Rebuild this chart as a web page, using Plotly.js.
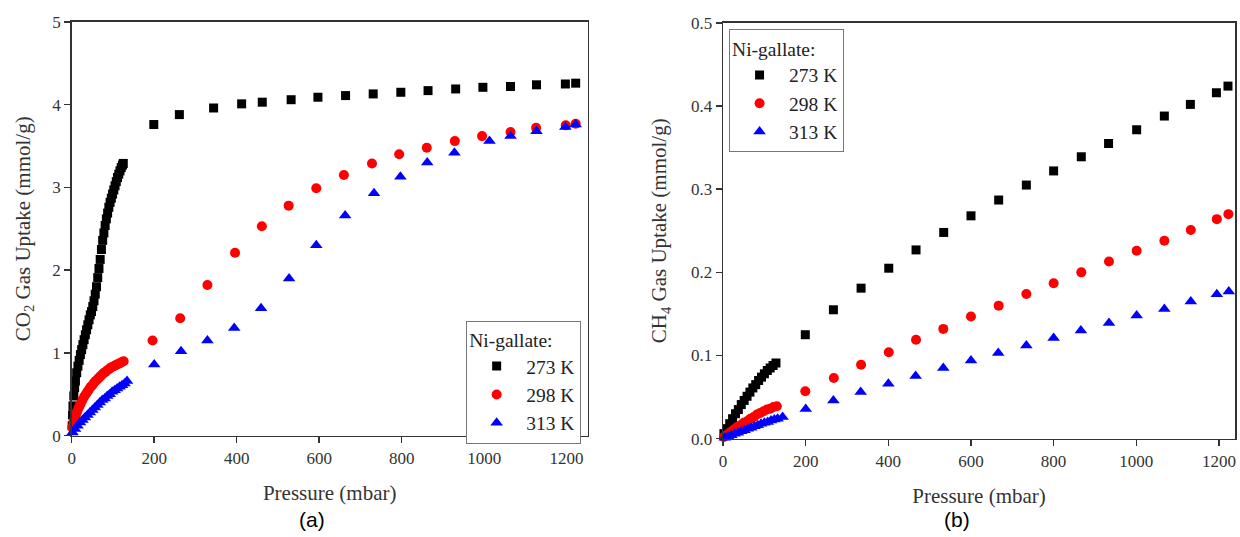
<!DOCTYPE html>
<html>
<head>
<meta charset="utf-8">
<script src="https://cdn.plot.ly/plotly-3.0.1.min.js"></script>
<style>html,body{margin:0;padding:0;background:#fff;}#chart{width:1240px;height:537px;}</style>
</head>
<body>
<div id="chart"></div>
<script>
// ---------- (a) CO2 uptake, Ni-gallate ----------
const co2_273_p = [1,2,3,5,7,9,12,15,18,21,24,27,30,33,36,39,42,45,48,51,54,57,60,63,66,69,72,75,78,81,84,87,90,93,96,99,102,105,108,111,114,117,120,123,125,
  199,261,344,412,462,532,597,664,731,798,864,931,997,1064,1127,1197,1222];
const co2_273_u = [0.12,0.25,0.36,0.48,0.58,0.66,0.76,0.84,0.91,0.98,1.04,1.10,1.16,1.22,1.28,1.34,1.40,1.46,1.50,1.56,1.63,1.71,1.80,1.91,2.02,2.13,2.25,2.36,2.45,2.54,2.62,2.69,2.76,2.82,2.87,2.92,2.97,3.02,3.07,3.12,3.16,3.20,3.24,3.27,3.29,
  3.76,3.88,3.96,4.01,4.03,4.06,4.09,4.11,4.13,4.15,4.17,4.19,4.21,4.22,4.24,4.25,4.26];

const co2_298_p = [1,4,7,10,13,16,19,22,26,30,34,38,42,46,50,54,58,62,66,70,74,78,82,86,90,94,98,102,106,110,114,118,122,126,
  196,263,329,396,461,526,593,660,728,794,861,929,995,1064,1126,1198,1222];
const co2_298_u = [0.10,0.16,0.21,0.25,0.29,0.33,0.36,0.39,0.43,0.47,0.50,0.53,0.56,0.59,0.61,0.64,0.66,0.68,0.70,0.72,0.74,0.76,0.77,0.79,0.80,0.82,0.83,0.84,0.85,0.86,0.87,0.88,0.89,0.90,
  1.15,1.42,1.82,2.21,2.53,2.78,2.99,3.15,3.29,3.40,3.48,3.56,3.62,3.67,3.72,3.75,3.77];

const co2_313_p = [2,8,14,20,26,32,38,44,50,56,62,68,74,80,86,92,98,104,110,116,122,128,134,
  200,265,329,394,459,527,593,663,733,797,862,928,1013,1064,1127,1197,1222];
const co2_313_u = [0.04,0.08,0.12,0.16,0.19,0.22,0.25,0.28,0.31,0.34,0.37,0.40,0.43,0.45,0.48,0.50,0.53,0.55,0.57,0.59,0.61,0.63,0.66,
  0.86,1.02,1.15,1.30,1.54,1.90,2.30,2.66,2.93,3.13,3.30,3.42,3.56,3.62,3.68,3.73,3.76];

// ---------- (b) CH4 uptake, Ni-gallate ----------
const ch4_273_p = [2,9,16,23,30,37,44,51,58,65,72,79,86,93,100,107,114,121,128,
  199,267,334,401,467,534,600,667,734,800,867,933,1001,1068,1131,1194,1222];
const ch4_273_u = [0.006,0.012,0.018,0.024,0.030,0.035,0.041,0.046,0.051,0.056,0.061,0.065,0.070,0.074,0.078,0.082,0.085,0.088,0.091,
  0.125,0.155,0.181,0.205,0.227,0.248,0.268,0.287,0.305,0.322,0.339,0.355,0.3715,0.388,0.402,0.416,0.424];

const ch4_298_p = [2,10,18,26,34,42,50,58,66,74,82,90,98,106,114,122,130,
  199,268,334,401,467,533,600,667,734,800,867,934,1001,1068,1132,1195,1223];
const ch4_298_u = [0.002,0.005,0.008,0.011,0.014,0.016,0.019,0.021,0.024,0.026,0.029,0.031,0.033,0.035,0.036,0.038,0.039,
  0.057,0.073,0.089,0.104,0.119,0.132,0.147,0.160,0.174,0.187,0.200,0.213,0.226,0.238,0.251,0.264,0.270];

const ch4_313_p = [4,12,20,28,36,44,52,60,68,76,84,92,100,108,116,124,132,144,
  200,267,333,400,466,533,600,666,734,800,866,934,1001,1068,1132,1195,1224];
const ch4_313_u = [0.001,0.003,0.004,0.006,0.007,0.009,0.010,0.012,0.013,0.015,0.016,0.018,0.019,0.020,0.022,0.023,0.024,0.026,
  0.0357,0.046,0.056,0.066,0.0755,0.085,0.094,0.103,0.112,0.121,0.130,0.139,0.148,0.156,0.165,0.1736,0.177];

const seriesNames = ['273 K', '298 K', '313 K'];
const legendTitle = 'Ni-gallate:';

const SERIF = '"Liberation Serif", "Times New Roman", serif';
const colors = ['#000000', '#ff0000', '#0000ff'];
const symbols = ['square', 'circle', 'triangle-up'];
const sizes = [9, 10, 11];

function tr(x, y, i, xa, ya, leg) {
  return {
    type: 'scatter', mode: 'markers', x: x, y: y, name: seriesNames[i],
    xaxis: xa, yaxis: ya, legend: leg, cliponaxis: false,
    marker: {color: colors[i], symbol: symbols[i], size: sizes[i], line: {width: 0}}
  };
}

const data = [
  tr(co2_273_p, co2_273_u, 0, 'x', 'y', 'legend'),
  tr(co2_298_p, co2_298_u, 1, 'x', 'y', 'legend'),
  tr(co2_313_p, co2_313_u, 2, 'x', 'y', 'legend'),
  tr(ch4_273_p, ch4_273_u, 0, 'x2', 'y2', 'legend2'),
  tr(ch4_298_p, ch4_298_u, 1, 'x2', 'y2', 'legend2'),
  tr(ch4_313_p, ch4_313_u, 2, 'x2', 'y2', 'legend2')
];

const axBase = {
  showline: true, mirror: true, linecolor: '#333', linewidth: 1.5,
  ticks: 'outside', ticklen: 6, tickwidth: 1.5, tickcolor: '#333',
  showgrid: false, zeroline: false, fixedrange: true, automargin: true,
  tickfont: {family: SERIF, size: 17, color: '#333'}
};
const titleFont = {family: SERIF, size: 21, color: '#333'};

function legendCfg(x, y) {
  return {
    x: x, y: y, xanchor: 'left', yanchor: 'top',
    bgcolor: '#ffffff', bordercolor: '#777', borderwidth: 1,
    font: {family: SERIF, size: 19.5, color: '#222'},
    title: {text: legendTitle, font: {family: SERIF, size: 19.5, color: '#222'}},
    itemwidth: 49, tracegroupgap: 0
  };
}

const layout = {
  width: 1240, height: 537,
  margin: {l: 4, r: 3, t: 10, b: 11},
  paper_bgcolor: '#ffffff', plot_bgcolor: '#ffffff',
  showlegend: true,
  xaxis: Object.assign({}, axBase, {domain: [0.05272, 0.47283], range: [0, 1251], tick0: 0, dtick: 200, anchor: 'y',
    title: {text: 'Pressure (mbar)', font: titleFont, standoff: 18}}),
  yaxis: Object.assign({}, axBase, {domain: [0.17248, 0.98062], range: [0, 5], tick0: 0, dtick: 1, anchor: 'x',
    title: {text: 'CO<sub>2</sub> Gas Uptake (mmol/g)', font: titleFont, standoff: 16}}),
  xaxis2: Object.assign({}, axBase, {domain: [0.58313, 1], range: [0, 1239], tick0: 0, dtick: 200, anchor: 'y2',
    title: {text: 'Pressure (mbar)', font: titleFont, standoff: 18}}),
  yaxis2: Object.assign({}, axBase, {domain: [0.16667, 0.97868], range: [0, 0.5], tick0: 0, dtick: 0.1, tickformat: '.1f', anchor: 'x2',
    title: {text: 'CH<sub>4</sub> Gas Uptake (mmol/g)', font: titleFont, standoff: 18}}),
  legend: legendCfg(0.3739, 0.3973),
  legend2: legendCfg(0.588, 0.9661),
  annotations: [
    {text: '(a)', xref: 'paper', yref: 'paper', x: 0.2482, y: 0.00969, xanchor: 'center', yanchor: 'middle',
     showarrow: false, font: {family: '"Liberation Sans", Arial, sans-serif', size: 21, color: '#000'}},
    {text: '(b)', xref: 'paper', yref: 'paper', x: 0.7737, y: 0.00969, xanchor: 'center', yanchor: 'middle',
     showarrow: false, font: {family: '"Liberation Sans", Arial, sans-serif', size: 21, color: '#000'}}
  ]
};

Plotly.newPlot('chart', data, layout, {staticPlot: true, displayModeBar: false});
</script>
</body>
</html>
